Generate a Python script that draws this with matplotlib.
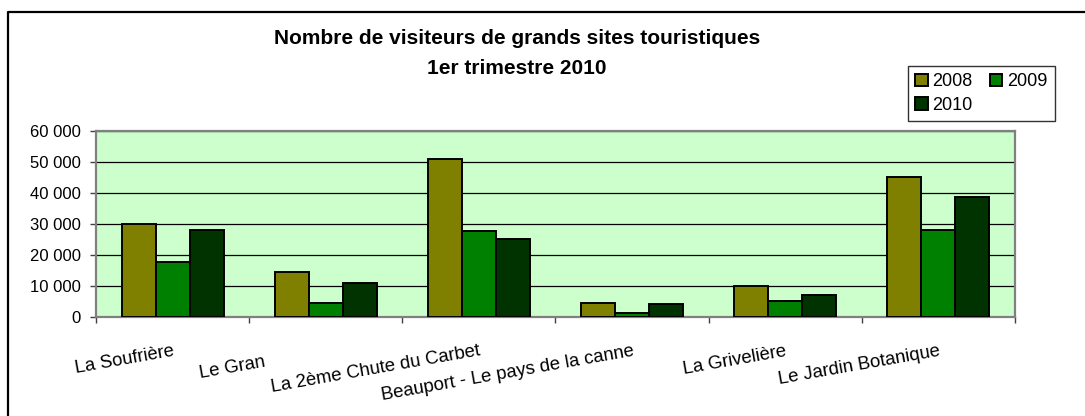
import numpy as np
import matplotlib
matplotlib.use("Agg")
import matplotlib.pyplot as plt
from matplotlib.ticker import FuncFormatter, FixedLocator
from matplotlib.lines import Line2D
from matplotlib.transforms import Bbox, TransformedBbox

plt.rcParams['font.family'] = ['Liberation Sans', 'DejaVu Sans']

# data
sites = ["La Soufrière", "Le Grand Etang", "La 2ème Chute du Carbet",
         "Beauport - Le pays de la canne", "La Grivelière", "Le Jardin Botanique"]
years = ["2008", "2009", "2010"]
v2008 = [30000, 14500, 51000, 4500, 9900, 45000]
v2009 = [17600, 4600, 27600, 1300, 5100, 28200]
v2010 = [28200, 11000, 25000, 4100, 7000, 38700]
yticks = [0, 10000, 20000, 30000, 40000, 50000, 60000]

colors = ["#808000", "#008000", "#003300"]
W, H = 1085, 416

fig = plt.figure(figsize=(W / 100, H / 100), dpi=100)
ax = fig.add_axes([96 / W, 1 - 317 / H, (1015 - 96) / W, (317 - 131) / H])
ax.set_facecolor("#CCFFCC")

x = np.arange(len(sites))
bw = 1 / 4.5
bars = []
for i, (vals, c) in enumerate(zip([v2008, v2009, v2010], colors)):
    b = ax.bar(x + (i - 1) * bw, vals, bw, color=c, edgecolor="black", lw=1.4,
               label=years[i], zorder=3)
    bars.append(b)

ax.set_xlim(-0.5, len(sites) - 0.5)
ax.set_ylim(0, 60000)
ax.yaxis.set_major_locator(FixedLocator(yticks))
ax.yaxis.set_major_formatter(FuncFormatter(lambda v, p: "{:,}".format(int(v)).replace(",", " ")))
ax.grid(axis="y", color="black", lw=0.9)
ax.set_axisbelow(True)
for s in ax.spines.values():
    s.set_color("#808080")
    s.set_linewidth(1.6)

ax.tick_params(axis="y", length=4.3, width=1, color="#404040", pad=6.5, labelsize=12)
ax.set_xticks(x)
ax.set_xticks(np.arange(len(sites) + 1) - 0.5, minor=True)
ax.tick_params(axis="x", which="minor", length=4, width=1, color="#404040")
ax.tick_params(axis="x", which="major", length=0, pad=18.5, labelsize=13.3)
ax.set_xticklabels(sites, rotation=10, ha="right", va="top", rotation_mode="anchor")

# second label is partly hidden in the original
lbl = ax.get_xticklabels()[1]
lbl.set_clip_box(TransformedBbox(Bbox.from_extents(0, 0, 265 / W, 1), fig.transFigure))
lbl.set_clip_on(True)

# titre
fig.text(517 / W, 1 - 44 / H, "Nombre de visiteurs de grands sites touristiques",
         ha="center", va="baseline", fontsize=15, fontweight="bold")
fig.text(517 / W, 1 - 74 / H, "1er trimestre 2010",
         ha="center", va="baseline", fontsize=15, fontweight="bold")

# legend, row order 2008 2009 / 2010
handles = [bars[0], bars[2], bars[1]]
labels = [years[0], years[2], years[1]]
leg = fig.legend(handles, labels, loc="upper left", bbox_to_anchor=(908 / W, 1 - 66 / H),
                 ncol=2, fontsize=13, frameon=True, fancybox=False, shadow=False,
                 handlelength=0.7, handleheight=0.7, handletextpad=0.25,
                 columnspacing=0.95, borderpad=0.4, labelspacing=0.35, borderaxespad=0)
leg.get_frame().set_edgecolor("black")
leg.get_frame().set_linewidth(1.0)

# chart area border (left and top only visible)
fig.add_artist(Line2D([7.5 / W, 7.5 / W, 1.01], [-0.01, 1 - 11.5 / H, 1 - 11.5 / H],
                      color="black", lw=1.6))

fig.savefig("out.png", dpi=100, facecolor="white")
